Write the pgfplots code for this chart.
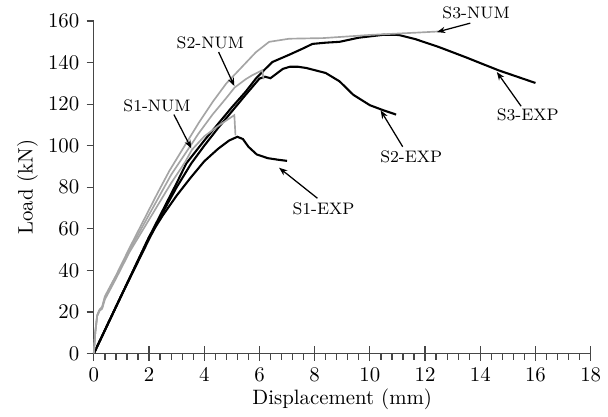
\documentclass[border=0pt]{standalone}
\usepackage{pgfplots}
\pgfplotsset{compat=1.18}
\usetikzlibrary{arrows.meta}
\definecolor{numgray}{RGB}{165,165,165}
\definecolor{axgray}{RGB}{70,70,70}
\begin{document}
\begin{tikzpicture}
\begin{axis}[
  at={(0,0)}, anchor=south west,
  scale only axis, width=238.7pt, height=159.7pt,
  xmin=0, xmax=18, ymin=0, ymax=160,
  axis lines=left,
  axis line style={-, axgray, line width=0.6pt},
  xtick={0,2,...,18}, ytick={0,20,...,160},
  minor x tick num=4,
  tick style={axgray, line width=0.6pt},
  tick align=outside,
  major tick length=3.5pt, minor tick length=3pt,
  extra x ticks={0,2,...,18}, extra x tick labels={},
  extra x tick style={tick align=inside, major tick length=3.5pt},
  xlabel={Displacement (mm)}, ylabel={Load (kN)},
  xlabel style={yshift=7pt},
  ylabel style={yshift=-2pt},
  clip=false,
]
% S1-EXP
\addplot[black, line width=1pt, no marks] coordinates {
(0,0)(0.5,14)(1,28)(1.5,42)(2,56)(2.5,66.5)(3,76)(3.5,84.5)(4,92.5)(4.5,98.5)(4.9,102.5)(5.2,104.3)(5.4,103.2)(5.6,99.5)(5.9,95.8)(6.3,94)(6.7,93.2)(7,92.7)};
% S2-EXP
\addplot[black, line width=1pt, no marks] coordinates {
(0,0)(0.5,14)(1,28)(1.5,41.5)(2,55)(2.5,68)(3,80)(3.53,91.5)(4,100)(4.5,108.5)(5,116.5)(5.5,124.5)(6,132.3)(6.2,133.2)(6.4,132.5)(6.6,134.5)(6.85,137)(7.1,138)(7.4,138)(7.7,137.4)(8.4,135)(8.9,131)(9.4,124.5)(10,119.5)(10.5,117)(10.95,115)};
% S3-EXP
\addplot[black, line width=1pt, no marks] coordinates {
(0,0)(0.5,14)(1,28)(1.5,42)(2,56)(2.5,69)(3,82)(3.35,91.5)(4,102.5)(4.5,110.5)(5,118.5)(5.5,126)(5.87,132.3)(6.2,136.8)(6.47,140.3)(7.08,143.8)(7.56,146.7)(7.92,149)(8.4,149.6)(8.9,150)(9.6,152)(10.5,153.4)(11.05,153.3)(11.65,151.3)(12.5,147.5)(13.45,142.7)(14.66,136.3)(16,130.2)};
% S1-NUM
\addplot[numgray, line width=0.8pt, no marks] coordinates {
(0,0)(0.05,10)(0.12,18)(0.2,20.5)(0.3,21.5)(0.4,26)(0.8,36)(1.3,49)(1.8,60)(2.3,71)(2.8,82)(3.3,92)(3.55,98)(4.0,104.5)(4.5,109.5)(5.09,114.7)(5.13,105)};
% S2-NUM
\addplot[numgray, line width=0.8pt, no marks] coordinates {
(0,0)(0.05,10)(0.12,18)(0.2,20.5)(0.3,22)(0.4,27)(0.8,37)(1.3,50)(1.8,62)(2.3,74)(2.8,86)(3.3,96)(3.8,106)(4.3,115)(4.8,123)(5.1,128)(5.5,132)(5.75,134)(6.1,136.3)(6.15,132)};
% S3-NUM
\addplot[numgray, line width=0.8pt, no marks] coordinates {
(0,0)(0.05,10)(0.12,18.5)(0.2,21)(0.3,22.5)(0.4,27.5)(0.8,37.5)(1.3,51)(1.8,64)(2.3,77)(2.74,88)(3.2,98)(3.8,111)(4.3,121)(4.8,130)(5.3,137)(5.87,145)(6.35,150)(7.08,151.5)(8.3,151.8)(10.1,153.4)(11.8,154.5)(12.5,155)};
% annotations
\begin{scope}[font=\footnotesize]
\node at (axis cs:13.85,163.9) {S3-NUM};
\draw[-{Stealth[length=4pt,width=3pt]}, line width=0.6pt] (axis cs:13.64,159) -- (axis cs:12.43,154.7);
\node at (axis cs:15.72,114.7) {S3-EXP};
\draw[-{Stealth[length=4pt,width=3pt]}, line width=0.6pt] (axis cs:15.48,119) -- (axis cs:14.6,135.5);
\node at (axis cs:11.5,94.7) {S2-EXP};
\draw[-{Stealth[length=4pt,width=3pt]}, line width=0.6pt] (axis cs:11.19,99.5) -- (axis cs:10.39,117);
\node at (axis cs:8.32,69.6) {S1-EXP};
\draw[-{Stealth[length=4pt,width=3pt]}, line width=0.6pt] (axis cs:8.1,74.7) -- (axis cs:6.71,89.4);
\node at (axis cs:4.22,149.5) {S2-NUM};
\draw[-{Stealth[length=4pt,width=3pt]}, line width=0.6pt] (axis cs:4.52,145.1) -- (axis cs:5.09,128.7);
\node at (axis cs:2.29,119) {S1-NUM};
\draw[-{Stealth[length=4pt,width=3pt]}, line width=0.6pt] (axis cs:2.9,115) -- (axis cs:3.53,98.7);
\end{scope}
\end{axis}
\path (-45.1pt,-27.3pt) rectangle (246.4pt,169.7pt);
\end{tikzpicture}
\end{document}
